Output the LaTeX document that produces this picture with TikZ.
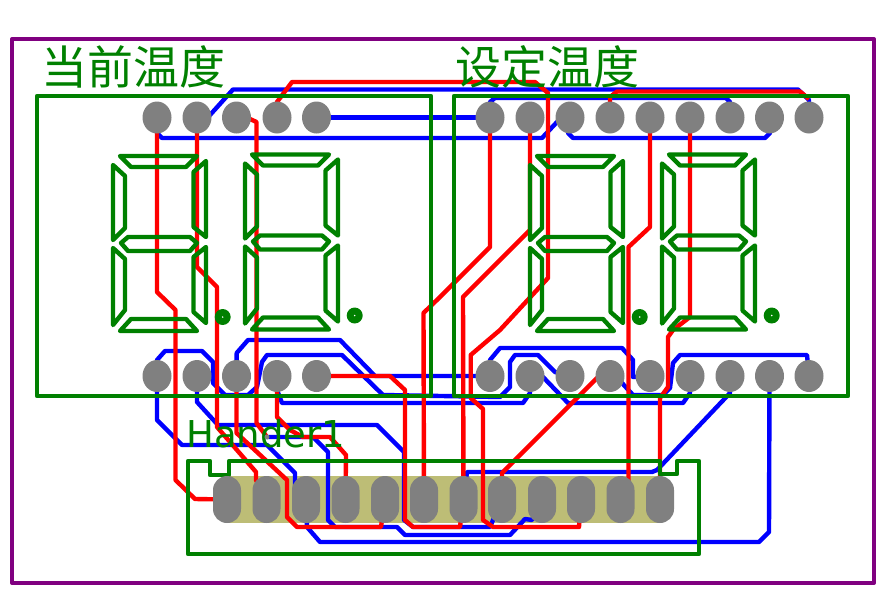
\documentclass[tikz,border=0pt]{standalone}
\usepackage{fontspec}
\setmainfont{DejaVu Sans}
\newfontfamily\cjkfont{Noto Sans CJK SC}
\pgfdeclarelayer{tracelayer}
\pgfdeclarelayer{padbase}
\pgfsetlayers{padbase,tracelayer,main}
\usetikzlibrary{shapes.geometric}
\definecolor{pcbgreen}{RGB}{0,128,0}
\definecolor{pcbpurple}{RGB}{128,0,128}
\definecolor{pcbkhaki}{RGB}{189,189,118}
\definecolor{pcbgray}{RGB}{128,128,128}
\definecolor{pcbblue}{RGB}{0,0,255}
\definecolor{pcbred}{RGB}{255,0,0}
\tikzset{
  silk/.style={draw=pcbgreen,line width=4.4pt,line join=round},
  blueline/.style={draw=pcbblue,line width=4.4pt,line join=round},
  redline/.style={draw=pcbred,line width=4.4pt,line join=round},
  roundpad/.style={ellipse,fill=pcbgray,minimum width=29pt,minimum height=32pt,inner sep=0pt},
  longpad/.style={rectangle,rounded corners=14pt,fill=pcbgray,minimum width=28pt,minimum height=47pt,inner sep=0pt},
  viapad/.style={circle,fill=pcbgray,minimum size=5pt,inner sep=0pt},
  silktext/.style={text=pcbgreen,anchor=west,inner sep=0pt}
}
\begin{document}
\begin{tikzpicture}[x=1pt,y=-1pt]
\useasboundingbox (0,0) rectangle (881,592);
% outlines
\draw[draw=pcbpurple,line width=4pt,line join=round] (12,39) rectangle (874,583);
\draw[silk] (37,96) rectangle (431,396);
\draw[silk] (454,96) rectangle (848,396);
\draw[silk] (188,461) -- (210,461) -- (210,475) -- (229,475) -- (229,461) -- (660,461) -- (660,474) -- (677,474) -- (677,461) -- (699,461) -- (699,554) -- (188,554) -- cycle;
% seven segment digits
\foreach \dx/\dy in {0/0,132/-1.5,417/0,549/-1.5}{
\begin{scope}[shift={(\dx,\dy)}]
 \draw[silk] (120,156) -- (197,156) -- (186,167) -- (131,167) -- cycle;
 \draw[silk] (113,165) -- (125,176) -- (125,228) -- (113,240) -- cycle;
 \draw[silk] (206,161) -- (193.5,172) -- (193.5,227) -- (206,237) -- cycle;
 \draw[silk] (121,243) -- (128,237) -- (190,237) -- (197,243) -- (190,251) -- (128,251) -- cycle;
 \draw[silk] (113,248) -- (125,259) -- (125,310) -- (113,325) -- cycle;
 \draw[silk] (206,247) -- (193.5,257) -- (193.5,312) -- (206,323) -- cycle;
 \draw[silk] (120,331) -- (197,331) -- (186,319) -- (131,319) -- cycle;
 \fill[pcbgreen] (222.7,317) circle (8pt);
 \fill[white] (222.7,317) circle (0.8pt);
\end{scope}}
% texts
\node[silktext,font=\cjkfont\fontsize{46}{50}\selectfont] (curtitle) at (41,67) {当前温度};
\node[silktext,font=\cjkfont\fontsize{46}{50}\selectfont] (settitle) at (455,67) {设定温度};
\node[silktext,font=\fontsize{37}{40}\selectfont,anchor=base west] (hdrtitle) at (186,447) {Hander1};
% pads
\foreach \px [count=\i] in {157,197,236.5,277,316.5,490,530,570,610,650,690,730,769.5,809}{
  \node[roundpad] (t\i) at (\px,117.5) {};
  \node[roundpad] (b\i) at (\px,376) {};
}
\foreach \px [count=\i] in {227,266.5,306,345.5,385,424,463.5,502,542,581,620.5,660}{
  \node[longpad] (h\i) at (\px,499.5) {};
}
\node[viapad] (via) at (267,437) {};
\begin{pgfonlayer}{padbase}
\fill[pcbkhaki] (h1.north) rectangle (h12.south);
\end{pgfonlayer}
\begin{pgfonlayer}{tracelayer}
% blue traces
\draw[blueline] (t5.center) -- (t6.center);
\draw[blueline] (t1.center) -- (157,133) -- (162,138) -- (542,138) -- (557,122) -- (t8.center);
\draw[blueline] (t8.center) -- (568,133) -- (573,138) -- (765,138) -- (770,133) -- (t13.center);
\draw[blueline] (t2.center) -- (210,115) -- (233,89.5) -- (798,89.5) -- (809,100) -- (t14.center);
\draw[blueline] (t6.center) -- (490,102) -- (495,98) -- (726,98) -- (730,102) -- (t12.center);
\draw[blueline] (b1.center) -- (157,360) -- (165,351) -- (202,351) -- (213,362) -- (213,383) -- (225,395) -- (248,395) -- (257,387) -- (262,362) -- (267,355) -- (342,355) -- (383,395) -- (500,397) -- (510,387) -- (510,362) -- (515,355) -- (538,355) -- (555,372) -- (b8.center);
\draw[blueline] (b3.center) -- (236.7,353) -- (248,340) -- (340,340) -- (375,376) -- (b6.center);
\draw[blueline] (b4.center) -- (277,390) -- (282,403) -- (523,403) -- (530,393) -- (b7.center);
\draw[blueline] (b6.center) -- (490,360) -- (500,348) -- (622,348) -- (633,360) -- (633,377) -- (b10.center);
\draw[blueline] (b7.center) -- (543,377) -- (568,403) -- (683,403) -- (690,393) -- (b11.center);
\draw[blueline] (b9.center) -- (622,383) -- (633,395) -- (663,395) -- (670,388) -- (673,363) -- (680,355) -- (807,355) -- (b14.center);
\draw[blueline] (b12.center) -- (730,393) -- (657,470) -- (652,472) -- (467,472) -- (h7.center);
\draw[blueline] (b13.center) -- (769,532) -- (759,542) -- (320,542) -- (307,527) -- (h3.center);
\draw[blueline] (b2.center) -- (197,402) -- (218,425) -- (377,425) -- (404,452) -- (404,520) -- (413,527) -- (490,527) -- (h8.center);
\draw[blueline] (via.center) -- (313,437) -- (328,452) -- (328,520) -- (335,527) -- (397,527) -- (405,535) -- (510,535) -- (525,519) -- (532,520) -- (h9.center);
\draw[blueline] (b1.center) -- (157,420) -- (182,445) -- (267,445) -- (295,473) -- (295,487) -- (h3.center);
% red traces
\draw[redline] (t1.center) -- (157,292) -- (175.5,310) -- (175.5,480) -- (195,499) -- (h1.center);
\draw[redline] (t2.center) -- (197,267) -- (217,287) -- (217,427) -- (256,472) -- (256,480) -- (h2.center);
\draw[redline] (t3.center) -- (250,119) -- (256.5,122) -- (256.5,423) -- (via.center);
\draw[redline] (t4.center) -- (277,102) -- (292,82) -- (535,82) -- (548,93) -- (548,278) -- (500,330) -- (470.7,355) -- (470.7,398) -- (483,409) -- (483,520) -- (493,527) -- (579,527) -- (h10.center);
\draw[redline] (b3.center) -- (236.5,433) -- (287,480) -- (287,517) -- (297,527) -- (381,527) -- (h5.center);
\draw[redline] (b4.center) -- (277,417) -- (290,430) -- (303,437) -- (330,437) -- (346,455) -- (h4.center);
\draw[redline] (b5.center) -- (390,376) -- (405,390) -- (405,520) -- (413,527) -- (460,527) -- (h7.center);
\draw[redline] (t6.center) -- (490,247) -- (440,297) -- (423.5,313) -- (h6.center);
\draw[redline] (t7.center) -- (530,230) -- (463,297) -- (h7.center);
\draw[redline] (t9.center) -- (610,97) -- (617,91.5) -- (800,91.5) -- (809,99);
\draw[redline] (t10.center) -- (650,227) -- (628.5,247) -- (628.5,480) -- (h11.center);
\draw[redline] (t11.center) -- (690,317) -- (673,330) -- (668,337) -- (668,387) -- (660,398) -- (h12.center);
\draw[redline] (b9.center) -- (597,378) -- (502,473) -- (h8.center);
\end{pgfonlayer}
\end{tikzpicture}
\end{document}
